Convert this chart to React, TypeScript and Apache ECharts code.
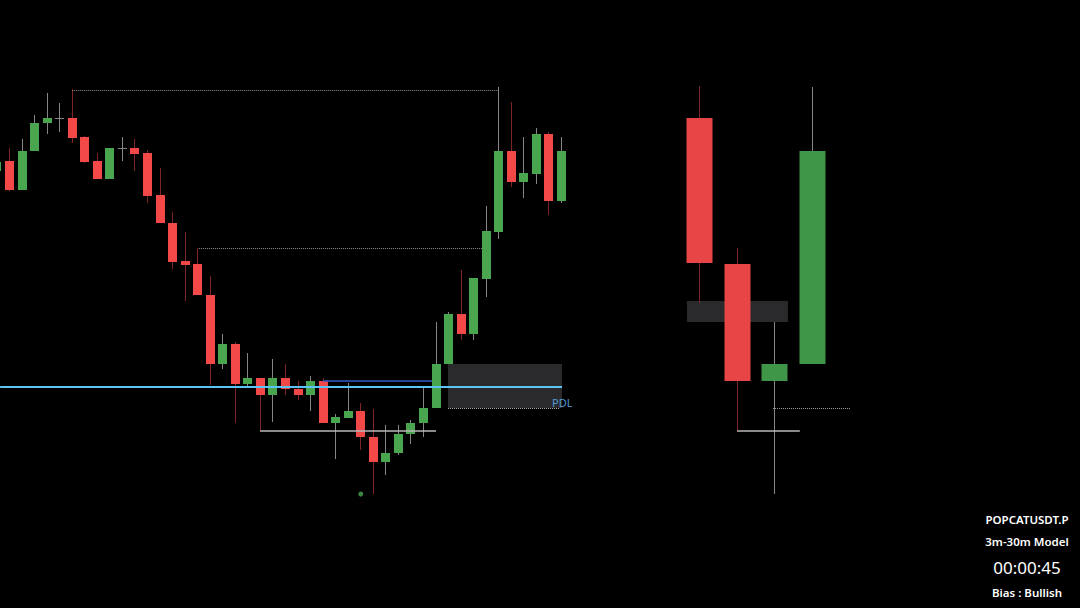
import React, { useEffect, useRef } from "react";
import * as echarts from "echarts";

// 3m candles: index, open, close, low, high (price units)
const idx3m = [0,1,2,3,4,5,6,7,8,9,10,11,12,13,14,15,16,17,18,19,20,21,22,23,24,25,26,27,28,29,30,31,32,33,34,35,36,37,38,39,40,41,42,43,44,45];
const open3m = [449,459,430,469,497,502,502,483,459,441,472,472,467,425,397,359,356,325,256,276,236,242,225,242,231,225,239,197,202,209,183,158,167,186,197,212,256,306,286,341,388,469,438,446,486,419];
const close3m = [458,430,469,497,502,502,482,458,441,472,472,466,424,397,358,355,325,256,276,236,242,225,242,231,225,239,197,203,209,183,158,167,186,197,212,256,306,286,342,389,469,438,447,486,419,469];
const low3m = [446,429,430,469,486,488,477,457,441,441,459,449,417,397,351,319,325,235,251,197,232,190,198,225,220,209,197,161,202,170,126,145,165,176,183,212,256,280,280,323,381,433,422,436,405,417];
const high3m = [462,472,481,505,527,517,531,484,467,472,483,481,470,452,408,388,372,344,286,278,267,242,261,256,239,244,242,206,237,217,211,195,195,200,233,298,308,350,342,414,533,518,483,492,488,483];

// 30m candles placed on the same time scale
const idx30m = [56, 59, 62, 65];
const open30m = [502, 356, 239, 256];
const close30m = [357, 239, 256, 469];
const low30m = [317, 189, 126, 256];
const high30m = [534, 372, 298, 533];

// levels
const highLevel = 530;
const midLevel = 372;
const sweepLow = 189;
const pdlLevel = 233.5;
const blueLevel = 239;
const pdlZone = [256, 212];
const htfZone = [319, 298];
const sslDot = [29, 126];

const infoLines = ["POPCATUSDT.P", "3m-30m Model", "00:00:45", "Bias : Bullish"];

const RED = "#f24848";
const GREEN = "#4aa54f";
const RED2 = "#e84646";
const GREEN2 = "#3f9648";
const WICK_RED = "#7e2424";
const WICK_GREEN = "#858585";

function makeRender(width: number, red: string, green: string) {
  return (params: any, api: any) => {
    const x = api.value(0);
    const o = api.value(1);
    const c = api.value(2);
    const l = api.value(3);
    const h = api.value(4);
    const pO = api.coord([x, o]);
    const pC = api.coord([x, c]);
    const pL = api.coord([x, l]);
    const pH = api.coord([x, h]);
    const up = c >= o;
    const doji = c === o;
    const top = Math.min(pO[1], pC[1]);
    const bh = Math.max(1, Math.abs(pO[1] - pC[1]));
    const cx = Math.round(pO[0] - 0.5) + 0.5;
    return {
      type: "group",
      children: [
        {
          type: "line",
          shape: { x1: cx, y1: pH[1], x2: cx, y2: pL[1] },
          style: { stroke: up ? WICK_GREEN : WICK_RED, lineWidth: 1 },
        },
        {
          type: "rect",
          shape: { x: cx - width / 2, y: top, width: width, height: bh },
          style: { fill: doji ? WICK_GREEN : up ? green : red },
        },
      ],
    };
  };
}

export default function App() {
  const ref = useRef<HTMLDivElement>(null);
  useEffect(() => {
    if (!ref.current) return;
    const chart = echarts.init(ref.current, undefined, { renderer: "svg" });
    const d3 = idx3m.map((i, k) => [i, open3m[k], close3m[k], low3m[k], high3m[k]]);
    const d30 = idx30m.map((i, k) => [i, open30m[k], close30m[k], low30m[k], high30m[k]]);
    const spacing = 12.545;
    const xmin = 0.2431;
    const xmax = xmin + 1080 / spacing;
    const dotted = { color: "#8a8a8a", type: "dotted", width: 1 };
    chart.setOption({
      animation: false,
      backgroundColor: "#000000",
      grid: { left: 0, right: 0, top: 0, bottom: 0 },
      xAxis: { type: "value", min: xmin, max: xmax, show: false, splitLine: { show: false } },
      yAxis: { type: "value", min: 12, max: 620, show: false, splitLine: { show: false } },
      series: [
        {
          type: "line",
          data: [],
          z: 1,
          silent: true,
          markArea: {
            silent: true,
            data: [
              [
                { coord: [35.95, pdlZone[0]], itemStyle: { color: "#2a2a2c" } },
                { coord: [45.04, pdlZone[1]] },
              ],
              [
                { coord: [55.0, htfZone[0]], itemStyle: { color: "#2a2a2c" } },
                { coord: [63.05, htfZone[1]] },
              ],
            ],
          },
        },
        {
          type: "custom",
          z: 2,
          renderItem: makeRender(9, RED, GREEN),
          encode: { x: 0, y: [1, 2, 3, 4] },
          data: d3,
        },
        {
          type: "custom",
          z: 2,
          renderItem: makeRender(26, RED2, GREEN2),
          encode: { x: 0, y: [1, 2, 3, 4] },
          data: d30,
        },
        {
          type: "line",
          data: [],
          z: 3,
          silent: true,
          markLine: {
            silent: true,
            symbol: "none",
            label: { show: false },
            data: [
              [{ coord: [6, highLevel], lineStyle: dotted }, { coord: [40, highLevel] }],
              [{ coord: [16.1, midLevel], lineStyle: dotted }, { coord: [38.67, midLevel] }],
              [{ coord: [20.97, sweepLow], lineStyle: { color: "#b8b8b8", type: "solid", width: 1.5 } }, { coord: [35, sweepLow] }],
              [{ coord: [26, blueLevel], lineStyle: { color: "#3558c8", type: "solid", width: 1.5 } }, { coord: [34.68, blueLevel] }],
              [{ coord: [0.25, pdlLevel], lineStyle: { color: "#5cc4f5", type: "solid", width: 2 } }, { coord: [45.04, pdlLevel] }],
              [{ coord: [35.95, pdlZone[1]], lineStyle: { color: "#b0b0b0", type: "dotted", width: 1 } }, { coord: [44.88, pdlZone[1]] }],
              [{ coord: [61.86, pdlZone[1]], lineStyle: { color: "#9a9a9a", type: "dotted", width: 1 } }, { coord: [68, pdlZone[1]] }],
              [{ coord: [59, sweepLow], lineStyle: { color: "#b8b8b8", type: "solid", width: 1.5 } }, { coord: [64, sweepLow] }],
            ],
          },
        },
        {
          type: "scatter",
          z: 3,
          silent: true,
          symbolSize: 5,
          itemStyle: { color: "#4aa54f" },
          data: [sslDot],
        },
      ],
      graphic: [
        {
          type: "text",
          z: 100,
          left: 552,
          top: 397,
          style: { text: "PDL", fill: "#4f9ad4", font: "11px 'Noto Sans', sans-serif" },
        },
        {
          type: "text",
          z: 100,
          x: 1027,
          y: 519,
          style: { text: infoLines[0], fill: "#ffffff", textAlign: "center", textVerticalAlign: "middle", font: "600 11.5px 'Noto Sans', sans-serif" },
        },
        {
          type: "text",
          z: 100,
          x: 1027,
          y: 541,
          style: { text: infoLines[1], fill: "#ffffff", textAlign: "center", textVerticalAlign: "middle", font: "600 11.5px 'Noto Sans', sans-serif" },
        },
        {
          type: "text",
          z: 100,
          x: 1027,
          y: 567,
          style: { text: infoLines[2], fill: "#ffffff", textAlign: "center", textVerticalAlign: "middle", font: "17px 'Noto Sans', sans-serif" },
        },
        {
          type: "text",
          z: 100,
          x: 1027,
          y: 592,
          style: { text: infoLines[3], fill: "#ffffff", textAlign: "center", textVerticalAlign: "middle", font: "600 11.5px 'Noto Sans', sans-serif" },
        },
      ],
    });
    return () => chart.dispose();
  }, []);
  return (
    <div
      ref={ref}
      style={{ position: "fixed", left: 0, top: 0, width: 1080, height: 608, background: "#000" }}
    />
  );
}
